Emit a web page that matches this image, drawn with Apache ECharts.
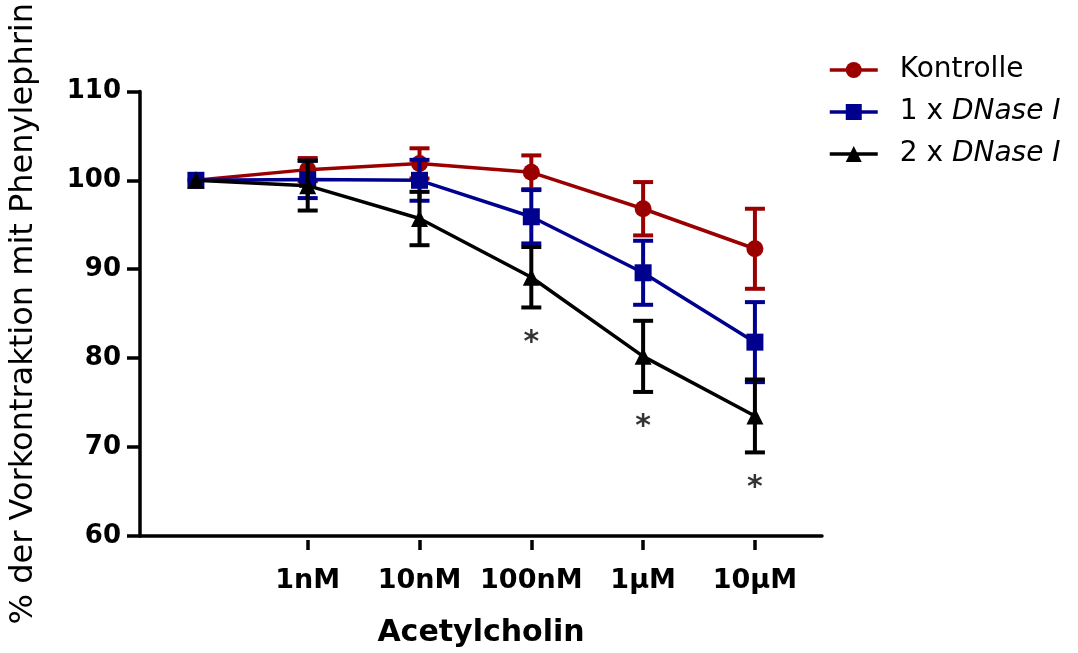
<!DOCTYPE html>
<html>
<head>
<meta charset="utf-8">
<script src="https://cdn.jsdelivr.net/npm/echarts@6/dist/echarts.min.js"></script>
<style>
html,body{margin:0;padding:0;background:#fff;}
#chart{width:1078px;height:653px;}
</style>
</head>
<body>
<div id="chart"></div>
<script>
const categories = ['', '1nM', '10nM', '100nM', '1µM', '10µM'];
const kontrolleMean = [100, 101.2, 101.9, 100.9, 96.8, 92.3];
const kontrolleSem  = [0, 1.3, 1.7, 1.9, 3.0, 4.5];
const dnase1Mean    = [100, 100.1, 100.0, 95.9, 89.6, 81.8];
const dnase1Sem     = [0, 2.1, 2.3, 3.0, 3.6, 4.5];
const dnase2Mean    = [100, 99.4, 95.7, 89.1, 80.2, 73.5];
const dnase2Sem     = [0, 2.8, 3.0, 3.4, 4.0, 4.1];
const dnase2Significant = [false, false, false, true, true, true];
const seriesNames = ['Kontrolle', '1 x DNase I', '2 x DNase I'];
const yTicks = [60, 70, 80, 90, 100, 110];

const RED = '#9B0000', BLUE = '#00008F', BLACK = '#000000';
const FONT = 'DejaVu Sans';
// x positions: category index counted from 1
const xIdx = categories.map((_, i) => i + 1);
const labeledIdx = xIdx.filter((_, i) => categories[i] !== '');
const xMin = 0.5, xMax = 6.6;
const yMin = yTicks[0], yMax = yTicks[yTicks.length - 1], yStep = yTicks[1] - yTicks[0];

function lineData(mean) { return mean.map((v, i) => [xIdx[i], v]); }
function errData(mean, sem) { return mean.map((v, i) => [xIdx[i], v - sem[i], v + sem[i]]); }

function errSeries(mean, sem, color, z) {
  return {
    type: 'custom', z: z, silent: true, xAxisIndex: 0, yAxisIndex: 0,
    data: errData(mean, sem).filter((d, i) => sem[i] > 0),
    renderItem: function (params, api) {
      const x = api.value(0);
      const lo = api.coord([x, api.value(1)]);
      const hi = api.coord([x, api.value(2)]);
      const hw = 10;
      const st = { stroke: color, lineWidth: 4 };
      return {
        type: 'group',
        children: [
          { type: 'line', shape: { x1: lo[0], y1: lo[1], x2: hi[0], y2: hi[1] }, style: st },
          { type: 'line', shape: { x1: lo[0] - hw, y1: lo[1], x2: lo[0] + hw, y2: lo[1] }, style: st },
          { type: 'line', shape: { x1: hi[0] - hw, y1: hi[1], x2: hi[0] + hw, y2: hi[1] }, style: st }
        ]
      };
    }
  };
}

function lineSeries(name, mean, color, symbol, size, z) {
  return {
    name: name, type: 'line', z: z, xAxisIndex: 0, yAxisIndex: 0,
    data: lineData(mean),
    symbol: symbol, symbolSize: size, showSymbol: true,
    lineStyle: { color: color, width: 3.5 },
    itemStyle: { color: color },
    emphasis: { disabled: true },
    animation: false
  };
}

const chart = echarts.init(document.getElementById('chart'), null, { renderer: 'canvas' });
const option = {
  animation: false,
  backgroundColor: '#fff',
  grid: { left: 137, right: 256, top: 88, bottom: 117, containLabel: false },
  legend: {
    left: 823, top: 50, orient: 'vertical',
    itemWidth: 48, itemHeight: 20, itemGap: 12,
    lineStyle: { width: 3.5 },
    data: seriesNames,
    formatter: function (n) {
      const p = n.split('DNase I');
      return p.length > 1 ? p[0] + '{it|DNase I}' : n;
    },
    textStyle: {
      fontFamily: FONT, fontSize: 28, color: '#000', lineHeight: 30, padding: [0, 0, 0, 17],
      rich: { it: { fontFamily: FONT, fontSize: 28, fontStyle: 'italic', color: '#000', lineHeight: 30 } }
    }
  },
  xAxis: [
    {
      type: 'value', min: xMin, max: xMax,
      splitLine: { show: false },
      axisLine: { show: true, lineStyle: { color: '#000', width: 3.5 } },
      axisTick: { show: false }, axisLabel: { show: false },
      name: 'Acetylcholin', nameLocation: 'middle', nameGap: 82,
      nameTextStyle: { fontFamily: FONT, fontWeight: 'bold', fontSize: 30, color: '#000' }
    },
    {
      type: 'value', min: xMin, max: xMax, position: 'bottom', offset: 4,
      splitLine: { show: false },
      axisLine: { show: false },
      axisTick: { show: true, length: 10, customValues: labeledIdx, lineStyle: { color: '#000', width: 3.5 } },
      axisLabel: {
        show: true, customValues: labeledIdx, margin: 27,
        formatter: v => categories[xIdx.indexOf(Math.round(v))],
        fontFamily: FONT, fontWeight: 'bold', fontSize: 27, color: '#000'
      }
    }
  ],
  yAxis: {
    type: 'value', min: yMin, max: yMax, interval: yStep,
    splitLine: { show: false },
    axisLine: { show: true, lineStyle: { color: '#000', width: 3.5 } },
    axisTick: { show: true, inside: false, length: 13, lineStyle: { color: '#000', width: 3.5 } },
    axisLabel: { margin: 19, fontFamily: FONT, fontWeight: 'bold', fontSize: 26, color: '#000' },
    name: '% der Vorkontraktion mit Phenylephrin', nameLocation: 'middle', nameGap: 100, nameRotate: 90,
    nameTextStyle: { fontFamily: FONT, fontSize: 32, color: '#000' }
  },
  series: [
    lineSeries(seriesNames[0], kontrolleMean, RED, 'circle', 17, 2),
    errSeries(kontrolleMean, kontrolleSem, RED, 2),
    lineSeries(seriesNames[1], dnase1Mean, BLUE, 'rect', 17, 3),
    errSeries(dnase1Mean, dnase1Sem, BLUE, 3),
    lineSeries(seriesNames[2], dnase2Mean, BLACK, 'triangle', 17, 4),
    errSeries(dnase2Mean, dnase2Sem, BLACK, 4),
    {
      type: 'scatter', z: 5, silent: true, xAxisIndex: 0, yAxisIndex: 0,
      symbolSize: 1, itemStyle: { color: 'rgba(0,0,0,0)' },
      data: dnase2Mean.map((v, i) => [xIdx[i], v - dnase2Sem[i]]).filter((d, i) => dnase2Significant[i]),
      label: { show: true, formatter: '*', position: 'bottom', distance: 20,
               textBorderWidth: 0,
               fontFamily: FONT, fontWeight: 'bold', fontSize: 30, color: '#000' }
    }
  ]
};
chart.setOption(option);
</script>
</body>
</html>
